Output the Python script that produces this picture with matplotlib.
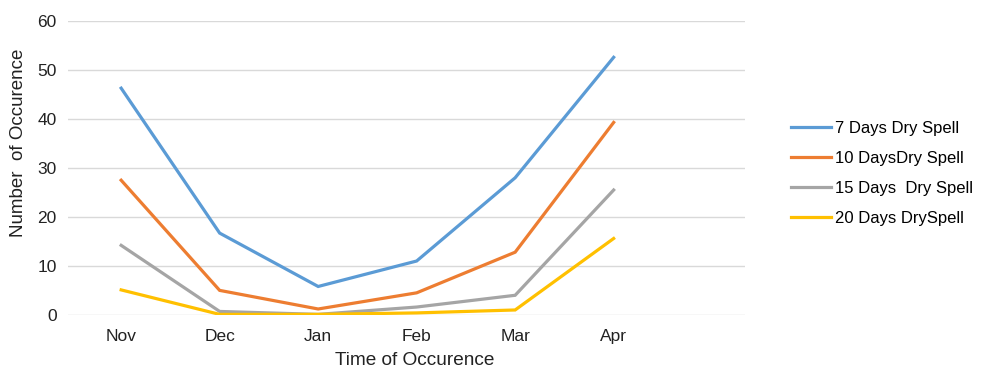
"""
Dry spell occurrences by month, redrawn as a line chart.
"""
import matplotlib
matplotlib.use('Agg')
import matplotlib.pyplot as plt

months = ['Nov', 'Dec', 'Jan', 'Feb', 'Mar', 'Apr']
spell_7 = [46.3, 16.7, 5.8, 11.0, 28.0, 52.6]
spell_10 = [27.5, 5.0, 1.2, 4.5, 12.8, 39.3]
spell_15 = [14.2, 0.7, 0.1, 1.6, 4.0, 25.5]
spell_20 = [5.1, 0.1, 0.1, 0.4, 1.0, 15.6]
labels = ['7 Days Dry Spell', '10 DaysDry Spell', '15 Days  Dry Spell',
          '20 Days DrySpell']
colors = ['#5B9BD5', '#ED7D31', '#A5A5A5', '#FFC000']

plt.rcParams['font.family'] = ['Liberation Sans', 'DejaVu Sans']

fig = plt.figure(figsize=(9.85, 3.70), dpi=100)
ax = fig.add_axes([0.069, 0.149, 0.687, 0.794])

x = list(range(len(months)))
for series, label, color in zip(
        [spell_7, spell_10, spell_15, spell_20], labels, colors):
    ax.plot(x, series, color=color, lw=2.3, label=label,
            solid_joinstyle='miter')

ax.set_xlim(-0.54, 6.33)
ax.set_ylim(0, 60)
ax.set_yticks(range(0, 61, 10))
ax.set_xticks(x)
ax.set_xticklabels(months)
ax.grid(axis='y', color='#D9D9D9', lw=1)
ax.set_axisbelow(True)
for spine in ax.spines.values():
    spine.set_visible(False)
ax.tick_params(length=0, labelsize=12.5, colors='#222222', pad=8)
ax.tick_params(axis='x', pad=10)

ax.set_xlabel('Time of Occurence', fontsize=13.7, color='#222222')
ax.xaxis.set_label_coords(0.513, -0.125)
ax.set_ylabel('Number  of Occurence', fontsize=13.5, color='#222222')
ax.yaxis.set_label_coords(-0.061, 0.585)

fig.legend(loc='center left', bbox_to_anchor=(0.788, 0.532),
           frameon=False, fontsize=12, handlelength=2.4,
           handletextpad=0.25, labelspacing=0.9)

fig.savefig('out.png', dpi=100)
